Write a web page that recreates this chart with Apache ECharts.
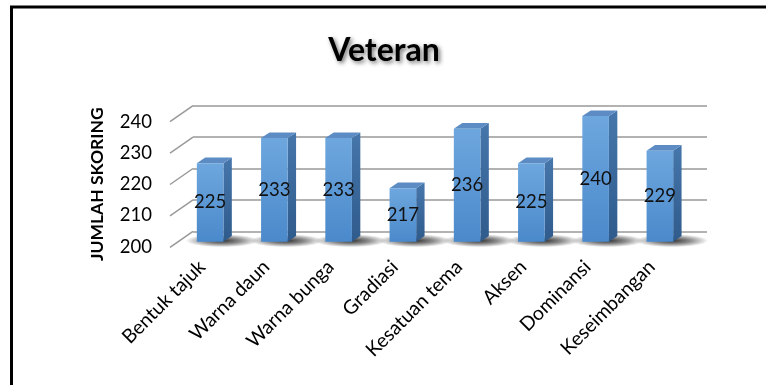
<!DOCTYPE html>
<html><head><meta charset="utf-8">
<script src="https://cdn.jsdelivr.net/npm/echarts@6/dist/echarts.min.js"></script>
<style>html,body{margin:0;padding:0;background:#fff}#c{width:766px;height:385px}</style>
</head><body><div id="c"></div>
<script>
const titleText = 'Veteran';
const yAxisName = 'JUMLAH SKORING';
const categories = ['Bentuk tajuk','Warna daun','Warna bunga','Gradiasi','Kesatuan tema','Aksen','Dominansi','Keseimbangan'];
const scores = [225, 233, 233, 217, 236, 225, 240, 229];
const yTicks = [200, 210, 220, 230, 240];

const FONT = 'Lato, "Open Sans", sans-serif';
const chart = echarts.init(document.getElementById('c'), null, {renderer: 'canvas'});

// 3D offsets (pixels)
const FRONT_DX = -15, FRONT_DY = 10.4, HW = 13.3, DEP_X = 8.4, DEP_Y = -5.7;

function barItem(params, api) {
  const i = api.value(0), v = api.value(1);
  const p = api.coord([i, v]);
  const b = api.coord([i, 200]);
  const cx = p[0] + FRONT_DX;
  const top = p[1] + FRONT_DY;
  const bot = b[1] + FRONT_DY;
  const l = cx - HW, r = cx + HW;
  return {
    type: 'group',
    children: [
      { type: 'circle', shape: { cx: 0, cy: 0, r: 6.5 }, x: cx + 12, y: bot - 1, scaleX: 5.6, scaleY: 1,
        style: { fill: new echarts.graphic.RadialGradient(0.5, 0.5, 0.5, [
          {offset: 0, color: 'rgba(0,0,0,0.8)'},
          {offset: 0.5, color: 'rgba(0,0,0,0.45)'},
          {offset: 1, color: 'rgba(0,0,0,0)'}]) } },
      { type: 'polygon', shape: { points: [[r, top], [r + DEP_X, top + DEP_Y], [r + DEP_X, bot + DEP_Y], [r, bot]] },
        style: { fill: new echarts.graphic.LinearGradient(0, 0, 0, 1, [
          {offset: 0, color: '#4676ab'}, {offset: 1, color: '#2f5b8c'}]) } },
      { type: 'polygon', shape: { points: [[l, top], [l + DEP_X, top + DEP_Y], [r + DEP_X, top + DEP_Y], [r, top]] },
        style: { fill: '#5c8cc3' } },
      { type: 'rect', shape: { x: l, y: top, width: r - l, height: bot - top },
        style: { fill: new echarts.graphic.LinearGradient(0, 0, 0, 1, [
          {offset: 0, color: '#6ea7de'}, {offset: 1, color: '#4a89cb'}]) } },
      { type: 'text', x: cx, y: (top + bot) / 2,
        style: { text: String(v), fill: '#111', font: '18.5px ' + FONT, align: 'center', verticalAlign: 'middle' } }
    ]
  };
}

function diagItem(params, api) {
  const v = api.value(1);
  const p = api.coord([0, v]);
  const x = params.coordSys.x;
  return { type: 'line', shape: { x1: x, y1: p[1], x2: x - 23, y2: p[1] + 16 },
    style: { stroke: '#999', lineWidth: 1.5 } };
}

chart.setOption({
  backgroundColor: '#fff',
  animation: false,
  title: { text: titleText, left: 379, top: 30, textAlign: 'center',
    textStyle: { fontFamily: FONT, fontWeight: 'bold', fontSize: 32, color: '#000',
      textShadowColor: 'rgba(0,0,0,0.55)', textShadowBlur: 4, textShadowOffsetX: 2, textShadowOffsetY: 2 } },
  grid: [
    { left: 193, right: 59, top: 105.7, bottom: 153.7 },
    { left: 170, right: 82, top: 121.7, bottom: 138.3 }
  ],
  xAxis: [
    { type: 'category', gridIndex: 0, data: categories, show: true,
      axisLine: { show: false }, axisTick: { show: false }, axisLabel: { show: false }, splitLine: { show: false } },
    { type: 'category', gridIndex: 1, data: categories,
      axisLine: { show: false }, axisTick: { show: false }, splitLine: { show: false },
      axisLabel: { interval: 0, rotate: 45, margin: 17, fontFamily: FONT, fontSize: 19.5, color: '#000' } }
  ],
  yAxis: [
    { type: 'value', gridIndex: 0, min: 200, max: 240, interval: 10,
      axisLine: { show: false }, axisTick: { show: false }, axisLabel: { show: false },
      splitLine: { show: true, lineStyle: { color: '#999', width: 1.5 } } },
    { type: 'value', gridIndex: 1, min: 200, max: 240, interval: 10,
      axisLine: { show: false }, axisTick: { show: false }, splitLine: { show: false },
      axisLabel: { margin: 18, fontFamily: FONT, fontSize: 18.5, color: '#000' },
      name: yAxisName, nameLocation: 'middle', nameRotate: 90, nameGap: 64,
      nameTextStyle: { fontFamily: FONT, fontWeight: 'bold', fontSize: 17.5, color: '#000' } }
  ],
  series: [
    { type: 'custom', xAxisIndex: 0, yAxisIndex: 0, renderItem: diagItem,
      data: yTicks.map(t => [0, t]), encode: { x: 0, y: 1 }, z: 1, silent: true },
    { type: 'custom', xAxisIndex: 0, yAxisIndex: 0, renderItem: barItem,
      data: scores.map((s, i) => [i, s]), encode: { x: 0, y: 1 }, z: 3, clip: false }
  ],
  graphic: [
    { type: 'line', shape: { x1: 10, y1: 7, x2: 766, y2: 7 }, style: { stroke: '#000', lineWidth: 3 } },
    { type: 'line', shape: { x1: 11.5, y1: 6, x2: 11.5, y2: 385 }, style: { stroke: '#000', lineWidth: 3 } }
  ]
});
</script></body></html>
